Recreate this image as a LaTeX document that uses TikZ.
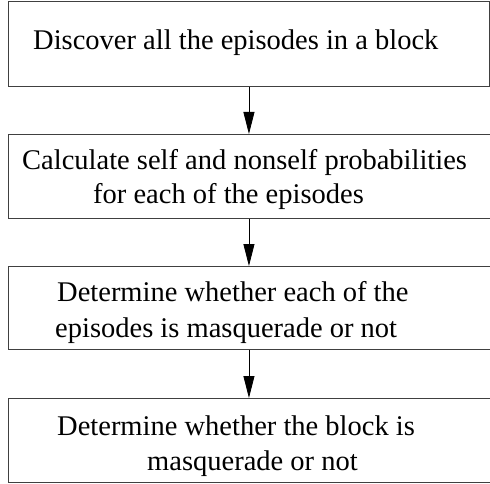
\documentclass[tikz,border=0pt]{standalone}
\usepackage{fontspec}
\setmainfont{Liberation Serif}
\usetikzlibrary{arrows.meta}
\begin{document}
\begin{tikzpicture}[x=1pt,y=-1pt,
  box/.style={draw=black!75,line width=0.9pt,rectangle,anchor=north west,inner sep=0pt,minimum height=#1},
  txt/.style={anchor=base west,inner sep=0pt,font=\fontsize{28.5}{34}\selectfont},
  flow/.style={draw=black,line width=0.8pt,-{Triangle[length=22pt,width=11pt]}}]
\useasboundingbox (0,0) rectangle (490,484);
\clip (0,0) rectangle (490,484);
\node[box=85pt,minimum width=481pt] (b1) at (8,1) {};
\node[box=84pt,minimum width=500pt] (b2) at (8,134) {};
\node[box=83pt,minimum width=500pt] (b3) at (8,266) {};
\node[box=84pt,minimum width=500pt] (b4) at (8,398) {};
\node[txt] (t1) at (33,50) {Discover all the episodes in a block};
\node[txt] (t2a) at (22,170) {Calculate self and nonself probabilities};
\node[txt] (t2b) at (93,204) {for each of the episodes};
\node[txt] (t3a) at (57,301) {Determine whether each of the};
\node[txt] (t3b) at (55,337) {episodes is masquerade or not};
\node[txt] (t4a) at (57,435) {Determine whether the block is};
\node[txt] (t4b) at (147,470) {masquerade or not};
\draw[flow] (b1.south) -- (b1.south |- b2.north);
\draw[flow] (b1.south |- b2.south) -- (b1.south |- b3.north);
\draw[flow] (b1.south |- b3.south) -- (b1.south |- b4.north);
\end{tikzpicture}
\end{document}
